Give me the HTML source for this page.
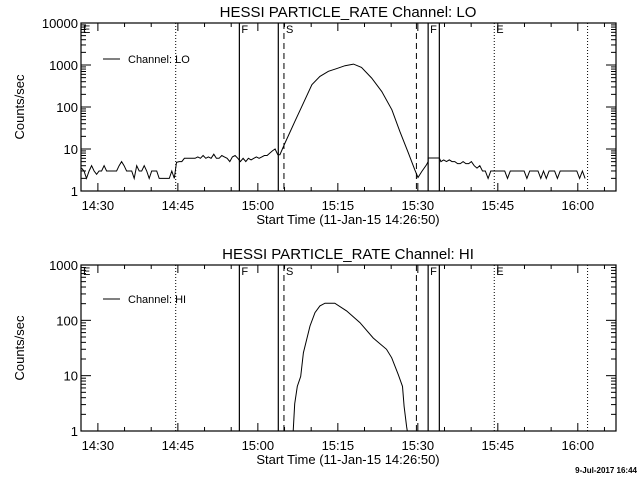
<!DOCTYPE html>
<html><head><meta charset="utf-8"><style>
html,body{margin:0;padding:0;background:#fff;}
svg{display:block;font-family:"Liberation Sans",sans-serif;}
</style></head><body>
<svg id="c" width="640" height="480" viewBox="0 0 640 480"></svg>
<script>
// ---- data (time in minutes since 14:26:50) ----
const xTickLabels = ["14:30","14:45","15:00","15:15","15:30","15:45","16:00"];
const xTickTimes = [3.167,18.167,33.167,48.167,63.167,78.167,93.167];
const loNoiseA = [3.5,3,2,3,4,3,2.5,3,3,4,3,3,3,3,3,4,5,4,3,3,3,2,4,3,3,4,3,2,3,3,3,2,2,2,2,2,3,2];
const loNoiseB = [4.8,5,5,6,6,6,6,6,6.5,6,7,6,6.5,6,7.5,6,6,7,6.5,6,5,6.5,7,6,5,6,5,6,5.5,6,6.5,6,6.5,7,7,8,9,10];
const loPeakT = [36.9,37.3,38.25,40.1,41.7,43.3,44.8,46.4,47.9,49.5,51.1,52.6,54.5,56.4,58.3,59.8,61.4,62.6,63.2,63.9,64.8,65.1,65.1,67.2];
const loPeakV = [7.3,7.3,13.9,45,124,339,535,707,815,960,1050,875,490,235,86,26,8,3.2,2.1,2.9,4.2,5,6.1,6.1];
const loNoiseC = [5,5.5,5,5.5,5,5,4.5,4.5,5,4.5,4.5,5,4,3.5,4,3,3,2,3,3,3,3,3,3,2,3,3,3,3,3,3,2,3,3,3,3,2,3,2,3,3,3,2,3,3,3,3,3,3,3,2,3,2];
const hiT = [39.8,40.07,40.56,41.2,41.7,42.94,43.88,44.8,45.75,47.6,49.8,52.3,54.8,57.3,58.26,59.5,60.3,60.6,61.07,61.2];
const hiV = [1,3.1,6.4,9.7,26,79,138,182,204,204,148,91,48,30,21,10.4,6.4,2.8,1.2,1];
const markerTimes = [17.76,29.7,37.0,38.06,62.9,65.1,67.2,77.5,95.0];
const markerStyles = ["dot","solid","solid","dash","dash","solid","solid","dot","dot"];
const markerLetters = [["E",0],["F",29.7],["S",38.06],["F",65.1],["E",77.5]];

const NS="http://www.w3.org/2000/svg";
const svg=document.getElementById('c');
function mk(tag,attrs,parent){const e=document.createElementNS(NS,tag);for(const k in attrs)e.setAttribute(k,attrs[k]);(parent||svg).appendChild(e);return e;}

function panel(cfg){
  const g=mk('g',{});
  
  
  const L=81,R=616,T=cfg.top,B=cfg.bottom,dec=cfg.decades;
  const xs=t=>L+t*(R-L)/100.33;
  const ys=v=>B-Math.log10(Math.max(v,1))*(B-T)/dec;
  // title
  const ti=mk('text',{x:348,y:T-6,'text-anchor':'middle','font-size':15},g);ti.textContent=cfg.title;
  
  // frame
  const fr=mk('rect',{x:L,y:T,width:R-L,height:B-T,fill:'none',stroke:'#000','stroke-width':1.2},g);
  
  // y ticks
  for(let d=0;d<=dec;d++){
    const y=ys(Math.pow(10,d));
    mk('line',{x1:L,x2:L+10,y1:y,y2:y,stroke:'#000'},g);
    mk('line',{x1:R-10,x2:R,y1:y,y2:y,stroke:'#000'},g);
    const lb=mk('text',{x:L-3,y:y+5,'text-anchor':'end','font-size':13},g);lb.textContent=String(Math.pow(10,d));
    
    if(d<dec)for(let m=2;m<=9;m++){const yy=ys(m*Math.pow(10,d));
      mk('line',{x1:L,x2:L+5,y1:yy,y2:yy,stroke:'#000'},g);mk('line',{x1:R-5,x2:R,y1:yy,y2:yy,stroke:'#000'},g);}
  }
  // x ticks
  for(let t=3.167-5*0;t<100.33;t+=5){
    const x=xs(t);const maj=Math.abs(((t-3.167)/15)-Math.round((t-3.167)/15))<0.01;
    const len=maj?8:4;
    mk('line',{x1:x,x2:x,y1:B,y2:B-len,stroke:'#000'},g);mk('line',{x1:x,x2:x,y1:T,y2:T+len,stroke:'#000'},g);
  }
  xTickLabels.forEach((s,i)=>{const lb=mk('text',{x:xs(xTickTimes[i]),y:B+19,'text-anchor':'middle','font-size':13},g);lb.textContent=s;
    });
  const xt=mk('text',{x:348,y:B+33,'text-anchor':'middle','font-size':13},g);xt.textContent="Start Time (11-Jan-15 14:26:50)";
  
  const cy=(T+B)/2;
  const yt=mk('text',{x:24,y:cy,'text-anchor':'middle','font-size':13,transform:`rotate(-90 24 ${cy})`},g);yt.textContent="Counts/sec";
  
  // markers
  markerTimes.forEach((t,i)=>{const x=xs(t);const st=markerStyles[i];
    const ln=mk('line',{x1:x,x2:x,y1:T,y2:B,stroke:'#000','stroke-width':st==='solid'?1.2:1,'stroke-dasharray':st==='dot'?'1,2':(st==='dash'?'6,4':'none')},g);
    });
  markerLetters.forEach(([s,t])=>{const lb=mk('text',{x:xs(t)+2,y:T+10,'font-size':11},g);lb.textContent=s;
    });
  // legend
  const ly=T+(cfg.legendDy);
  mk('line',{x1:103,x2:120,y1:ly,y2:ly,stroke:'#000'},g);
  const lt=mk('text',{x:128,y:ly+4,'font-size':11},g);lt.textContent=cfg.legend;
  
  // series
  const pts=cfg.series.map(([t,v])=>xs(t).toFixed(1)+','+ys(v).toFixed(1)).join(' ');
  const pl=mk('polyline',{points:pts,fill:'none',stroke:'#000','stroke-width':1},g);
  
}

const lo=[];
loNoiseA.forEach((v,i)=>lo.push([0.1+i*0.47,v]));
loNoiseB.forEach((v,i)=>lo.push([17.9+i*0.5,v]));
loPeakT.forEach((t,i)=>lo.push([t,loPeakV[i]]));
loNoiseC.forEach((v,i)=>lo.push([67.5+i*0.52,v]));
const hi=hiT.map((t,i)=>[t,hiV[i]]);

panel({name:'lo-channel-panel',top:23,bottom:191,decades:4,title:'HESSI PARTICLE_RATE Channel: LO',legend:'Channel: LO',legendDy:36,series:lo,seriesName:'lo-rate-line'});
panel({name:'hi-channel-panel',top:265,bottom:431,decades:3,title:'HESSI PARTICLE_RATE Channel: HI',legend:'Channel: HI',legendDy:34,series:hi,seriesName:'hi-rate-line'});

const dt=mk('text',{x:637,y:473,'text-anchor':'end','font-size':8,'font-weight':'bold'});dt.textContent="9-Jul-2017 16:44";

</script>
</body></html>
